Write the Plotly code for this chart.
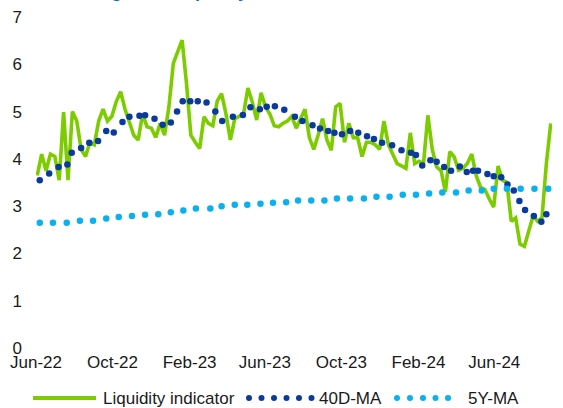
import pandas as pd
import plotly.graph_objects as go

# ---------------- data ----------------
liq_start = "2022-06-03"   # weekly observations
liquidity = [
    3.65, 4.10, 3.75, 4.10, 4.05, 3.55, 4.99, 3.55, 5.00, 4.80,
    4.20, 4.05, 4.35, 4.30, 4.80, 5.05, 4.80, 4.90, 5.21, 5.42,
    5.05, 4.75, 4.50, 4.40, 4.95, 4.68, 4.65, 4.45, 4.75, 4.50,
    5.10, 6.02, 6.25, 6.51, 5.60, 4.50, 4.35, 4.22, 4.89, 4.75,
    4.70, 5.22, 5.38, 4.95, 4.40, 4.85, 4.90, 4.95, 5.50, 5.20,
    4.82, 5.40, 5.10, 4.95, 4.70, 4.68, 4.75, 4.80, 4.90, 4.65,
    4.85, 5.05, 4.45, 4.20, 4.50, 4.85, 4.40, 4.18, 5.10, 5.17,
    4.35, 4.75, 4.45, 4.45, 4.05, 4.35, 4.35, 4.30, 4.20, 4.80,
    4.30, 4.10, 3.90, 3.85, 3.80, 4.55, 3.90, 3.95, 3.90, 4.92,
    4.20, 3.83, 3.75, 3.30, 4.15, 4.04, 3.76, 3.80, 3.90, 4.10,
    3.65, 3.40, 3.35, 3.15, 2.98, 3.85, 3.55, 3.50, 2.68, 2.75,
    2.20, 2.15, 2.50, 2.80, 2.68, 2.75, 3.90, 4.75,
]
liq_dates = pd.date_range(liq_start, periods=len(liquidity), freq="7D")

ma40_dates = [
    "2022-06-07", "2022-06-22", "2022-07-07", "2022-07-21", "2022-07-28",
    "2022-08-12", "2022-08-25", "2022-09-08", "2022-09-21", "2022-10-03",
    "2022-10-17", "2022-10-28", "2022-11-13", "2022-11-22", "2022-12-07",
    "2022-12-20", "2023-01-02", "2023-01-12", "2023-01-21", "2023-02-02",
    "2023-02-14", "2023-02-28", "2023-03-14", "2023-03-25", "2023-04-11",
    "2023-04-27", "2023-05-09", "2023-05-24", "2023-06-04", "2023-06-17",
    "2023-07-02", "2023-07-19", "2023-07-31", "2023-08-16", "2023-08-28",
    "2023-09-10", "2023-09-20", "2023-10-02", "2023-10-15", "2023-10-28",
    "2023-11-11", "2023-11-22", "2023-12-05", "2023-12-21", "2024-01-05",
    "2024-01-20", "2024-01-28", "2024-02-07", "2024-02-20", "2024-03-01",
    "2024-03-13", "2024-03-24", "2024-04-07", "2024-04-18", "2024-04-28",
    "2024-05-06", "2024-05-21", "2024-05-31", "2024-06-12", "2024-06-22",
    "2024-07-02", "2024-07-11", "2024-07-20", "2024-08-03", "2024-08-15",
    "2024-08-23",
]
ma40 = [
    3.55, 3.69, 3.83, 3.88, 4.13, 4.23, 4.34, 4.38, 4.59, 4.56,
    4.78, 4.89, 4.91, 4.92, 4.85, 4.72, 4.77, 5.00, 5.22, 5.22,
    5.22, 5.19, 5.00, 4.80, 4.89, 4.93, 5.09, 5.05, 5.10, 5.11,
    5.04, 4.89, 4.80, 4.71, 4.64, 4.59, 4.55, 4.52, 4.59, 4.55,
    4.48, 4.42, 4.34, 4.29, 4.18, 4.13, 4.08, 3.86, 3.97, 3.94,
    3.83, 3.75, 3.84, 3.72, 3.75, 3.75, 3.68, 3.63, 3.61, 3.46,
    3.33, 3.11, 2.92, 2.79, 2.67, 2.83,
]

ma5y_dates = [
    "2022-06-07", "2022-06-28", "2022-07-20", "2022-08-10", "2022-08-31",
    "2022-09-21", "2022-10-11", "2022-11-01", "2022-11-22", "2022-12-13",
    "2023-01-02", "2023-01-22", "2023-02-11", "2023-03-06", "2023-03-24",
    "2023-04-14", "2023-05-04", "2023-05-25", "2023-06-14", "2023-07-05",
    "2023-07-24", "2023-08-14", "2023-09-04", "2023-09-24", "2023-10-15",
    "2023-11-06", "2023-11-26", "2023-12-17", "2024-01-07", "2024-01-28",
    "2024-02-18", "2024-03-10", "2024-04-01", "2024-04-21", "2024-05-12",
    "2024-05-31", "2024-06-21", "2024-07-13", "2024-08-04", "2024-08-26",
]
ma5y = [
    2.65, 2.65, 2.65, 2.69, 2.69, 2.74, 2.77, 2.79, 2.82, 2.83,
    2.87, 2.91, 2.95, 2.95, 3.00, 3.03, 3.03, 3.05, 3.07, 3.08,
    3.12, 3.12, 3.12, 3.16, 3.16, 3.16, 3.20, 3.20, 3.24, 3.24,
    3.27, 3.29, 3.29, 3.33, 3.33, 3.37, 3.37, 3.37, 3.37, 3.37,
]

x_tickvals = ["2022-06-01", "2022-10-01", "2023-02-01", "2023-06-01",
              "2023-10-01", "2024-02-01", "2024-06-01"]
x_ticktext = ["Jun-22", "Oct-22", "Feb-23", "Jun-23", "Oct-23", "Feb-24", "Jun-24"]
y_tickvals = [0, 1, 2, 3, 4, 5, 6, 7]

series_names = ["Liquidity indicator", "40D-MA", "5Y-MA"]
title_text = "Deteriorating stock liquidity"

# ---------------- style ----------------
GREEN = "#7CCC00"
DARK = "#0A3A9E"
LIGHT = "#0BB0EE"
FONT = "Arial, Liberation Sans, sans-serif"
TXT = "#1a1a1a"

W, H = 563, 408
ML, MR, MT, MB = 36, 11, 17, 60
PW = W - ML - MR
PH = H - MT - MB

fig = go.Figure()
fig.add_trace(go.Scatter(x=liq_dates, y=liquidity, mode="lines",
                         line=dict(color=GREEN, width=3.6),
                         name=series_names[0], showlegend=False))
fig.add_trace(go.Scatter(x=ma40_dates, y=ma40, mode="markers",
                         marker=dict(color=DARK, size=6.5, line=dict(width=0)),
                         name=series_names[1], showlegend=False))
fig.add_trace(go.Scatter(x=ma5y_dates, y=ma5y, mode="markers",
                         marker=dict(color=LIGHT, size=6.5, line=dict(width=0)),
                         name=series_names[2], showlegend=False))

def px_x(px):
    return (px - ML) / PW

def px_y(py):
    return (H - MB - py) / PH

shapes = []
annotations = []
leg_y = px_y(398)
# legend: green line
shapes.append(dict(type="line", xref="paper", yref="paper",
                   x0=px_x(33), x1=px_x(96), y0=leg_y, y1=leg_y,
                   line=dict(color=GREEN, width=4)))
annotations.append(dict(xref="paper", yref="paper", x=px_x(101), y=leg_y,
                        xanchor="left", yanchor="middle", showarrow=False,
                        text=series_names[0], font=dict(family=FONT, size=17, color=TXT)))
# legend: dark dotted
for cx in [249, 261.5, 274, 286.5, 299, 311.5]:
    shapes.append(dict(type="circle", xref="paper", yref="paper",
                       xsizemode="pixel", ysizemode="pixel",
                       xanchor=px_x(cx), yanchor=leg_y,
                       x0=-3, x1=3, y0=-3, y1=3,
                       fillcolor=DARK, line=dict(width=0)))
annotations.append(dict(xref="paper", yref="paper", x=px_x(317), y=leg_y,
                        xanchor="left", yanchor="middle", showarrow=False,
                        text=series_names[1], font=dict(family=FONT, size=17, color=TXT)))
for cx in [397, 410, 423, 435.5, 448]:
    shapes.append(dict(type="circle", xref="paper", yref="paper",
                       xsizemode="pixel", ysizemode="pixel",
                       xanchor=px_x(cx), yanchor=leg_y,
                       x0=-3, x1=3, y0=-3, y1=3,
                       fillcolor=LIGHT, line=dict(width=0)))
annotations.append(dict(xref="paper", yref="paper", x=px_x(466), y=leg_y,
                        xanchor="left", yanchor="middle", showarrow=False,
                        text=series_names[2], font=dict(family=FONT, size=17, color=TXT)))
# title (mostly cut off at the top, as in the reference)
annotations.append(dict(xref="paper", yref="paper", x=px_x(8), y=px_y(2.5),
                        xanchor="left", yanchor="bottom", showarrow=False,
                        text="<b>" + title_text + "</b>",
                        font=dict(family=FONT, size=18, color="#0070C0")))

fig.update_layout(
    width=W, height=H,
    margin=dict(l=ML, r=MR, t=MT, b=MB, pad=0, autoexpand=False),
    paper_bgcolor="white", plot_bgcolor="white",
    font=dict(family=FONT, size=17, color=TXT),
    shapes=shapes, annotations=annotations,
    xaxis=dict(type="date", range=["2022-06-01", "2024-09-01"],
               tickvals=x_tickvals, ticktext=x_ticktext,
               showgrid=False, zeroline=False, showline=False,
               ticks="", ticklabelstandoff=2, automargin=False,
               tickfont=dict(family=FONT, size=17, color=TXT)),
    yaxis=dict(range=[0, 7], tickvals=y_tickvals,
               showgrid=False, zeroline=False, showline=False,
               ticks="", ticklabelstandoff=13, automargin=False,
               tickfont=dict(family=FONT, size=17, color=TXT)),
    showlegend=False,
)

fig.write_html("out.html",
               config={"displayModeBar": False},
               post_script="document.body.style.margin='0';document.body.style.overflow='hidden';")
